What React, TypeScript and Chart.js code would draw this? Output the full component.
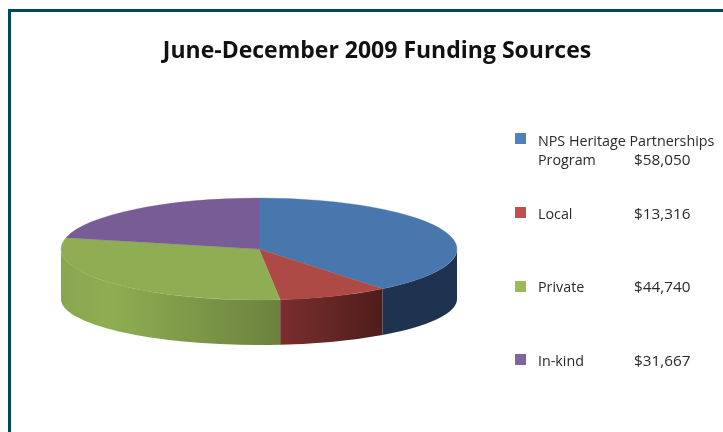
import React, { useEffect, useRef } from "react";
import { Chart, registerables } from "chart.js";

Chart.register(...registerables);

const titleText = "June-December 2009 Funding Sources";
const categories = ["NPS Heritage Partnerships Program", "Local", "Private", "In-kind"];
const funding = [58050, 13316, 44740, 31667];
const legendLines = [["NPS Heritage Partnerships", "Program"], ["Local"], ["Private"], ["In-kind"]];
const topColors = ["#4877AD", "#AE4A46", "#8FAD52", "#775C96"];
const legendColors = ["#4F81BD", "#C0504D", "#9BBB59", "#8064A2"];
const wallShades = [
  ["#1D3350", "#1D3350", "#1D3350"],
  ["#7A2E2C", "#642624", "#4E1D1B"],
  ["#88A64F", "#8FAE52", "#6B823E"],
  ["#775C96", "#775C96", "#775C96"],
];
const wallMidStop = [0.5, 0.5, 0.22, 0.5];
const legendRowY = [142, 215, 288, 362];
const legendSwatchY = [133, 207, 281, 354];

const FONT = '"Open Sans", sans-serif';
const PIE = { cx: 259, cy: 249, rx: 198, ry: 51, wallCy: 299, wallRy: 46 };
const LEGEND = { swatchX: 515, swatchSize: 11, textX: 538, valueX: 634, lineHeight: 19 };

const pie3d = {
  id: "pie3d",
  beforeDatasetsDraw(chart: any) {
    const { ctx } = chart;
    const arcs = chart.getDatasetMeta(0).data;
    arcs.forEach((arc: any, i: number) => {
      const a0 = Math.max(arc.startAngle, 0);
      const a1 = Math.min(arc.endAngle, Math.PI);
      if (a1 <= a0) return;
      const x0 = PIE.cx + PIE.rx * Math.cos(a0);
      const x1 = PIE.cx + PIE.rx * Math.cos(a1);
      const g = ctx.createLinearGradient(Math.min(x0, x1), 0, Math.max(x0, x1), 0);
      g.addColorStop(0, wallShades[i][0]);
      g.addColorStop(wallMidStop[i], wallShades[i][1]);
      g.addColorStop(1, wallShades[i][2]);
      ctx.save();
      ctx.fillStyle = g;
      ctx.beginPath();
      ctx.ellipse(PIE.cx, PIE.cy, PIE.rx, PIE.ry, 0, a0, a1, false);
      ctx.ellipse(PIE.cx, PIE.wallCy, PIE.rx, PIE.wallRy, 0, a1, a0, true);
      ctx.closePath();
      ctx.fill();
      ctx.restore();
    });
    // the flat top of the pie: the library's arcs seen at an angle
    const first = arcs[0];
    ctx.save();
    ctx.translate(PIE.cx, PIE.cy);
    ctx.scale(1, PIE.ry / PIE.rx);
    ctx.translate(-first.x, -first.y);
  },
  afterDatasetsDraw(chart: any) {
    chart.ctx.restore();
  },
  afterDraw(chart: any) {
    const { ctx } = chart;
    ctx.save();
    ctx.textBaseline = "middle";
    ctx.textAlign = "left";
    categories.forEach((_, i) => {
      const y = legendRowY[i];
      const lines = legendLines[i];
      ctx.fillStyle = legendColors[i];
      ctx.fillRect(LEGEND.swatchX, legendSwatchY[i], LEGEND.swatchSize, LEGEND.swatchSize);
      ctx.fillStyle = "#2A2A2A";
      ctx.font = `14.3px ${FONT}`;
      lines.forEach((line, k) => ctx.fillText(line, LEGEND.textX, y + k * LEGEND.lineHeight));
      ctx.font = `15.3px ${FONT}`;
      ctx.fillText(
        "$" + funding[i].toLocaleString("en-US"),
        LEGEND.valueX,
        y + (lines.length - 1) * LEGEND.lineHeight
      );
    });
    ctx.restore();
  },
};

export default function App() {
  const ref = useRef<HTMLCanvasElement>(null);
  useEffect(() => {
    const chart = new Chart(ref.current!, {
      type: "pie",
      data: {
        labels: categories,
        datasets: [
          {
            data: funding,
            backgroundColor: topColors,
            borderColor: topColors,
            borderWidth: 0.5,
            radius: PIE.rx,
            clip: false,
          } as any,
        ],
      },
      options: {
        responsive: false,
        animation: false,
        events: [],
        layout: { padding: { left: 31, right: 0, top: 0, bottom: 0 } },
        plugins: {
          legend: { display: false },
          tooltip: { enabled: false },
          title: {
            display: true,
            text: titleText,
            color: "#111111",
            font: { family: FONT, size: 23, weight: "bold" },
            padding: { top: 38, bottom: 10 },
          },
        },
      },
      plugins: [pie3d],
    });
    return () => chart.destroy();
  }, []);
  return (
    <div>
      <div
        style={{
          position: "fixed",
          left: 8,
          top: 9,
          width: 720,
          height: 430,
          borderTop: "3.5px solid #004A5A",
          borderLeft: "3.5px solid #004A5A",
          boxSizing: "border-box",
        }}
      />
      <canvas
        ref={ref}
        width={723}
        height={432}
        style={{ position: "fixed", left: 0, top: 0, width: 723, height: 432, display: "block" }}
      />
    </div>
  );
}
